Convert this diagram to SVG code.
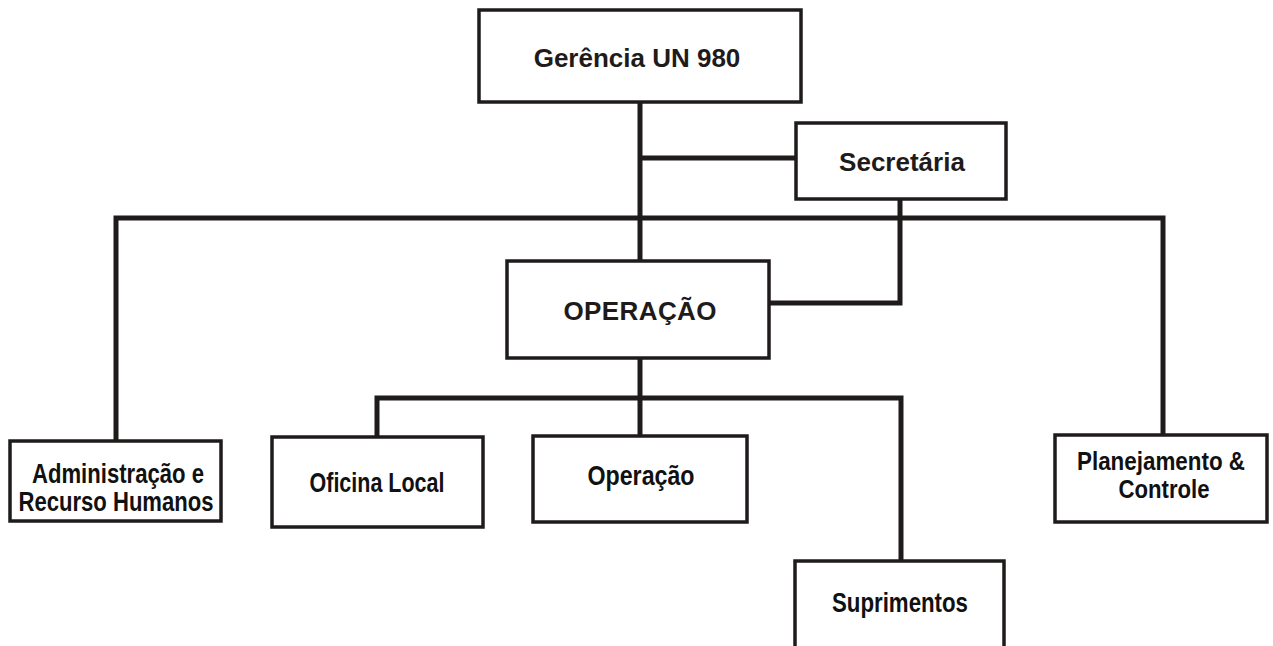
<svg xmlns="http://www.w3.org/2000/svg" width="1273" height="646" viewBox="0 0 1273 646">
  <style>
    .box { fill: #ffffff; stroke: #1f1b1b; stroke-width: 3.5; }
    .wire { fill: none; stroke: #1f1b1b; stroke-width: 5; stroke-linejoin: miter; stroke-linecap: butt; }
    .head { font-family: "Liberation Sans", Arial, sans-serif; font-weight: bold; font-size: 26px; fill: #1f1b1b; text-anchor: middle; }
    .unit { font-family: "Liberation Sans", Arial, sans-serif; font-weight: bold; font-size: 27px; fill: #111111; text-anchor: middle; }
    .unit.tight { font-size: 26px; }
  </style>
  <rect width="1273" height="646" fill="#ffffff"/>

  <!-- connectors -->
  <g id="connectors">
    <path class="wire" d="M640,102 V261"/>
    <path class="wire" d="M640,158 H796"/>
    <path class="wire" d="M116,441 V218 H1163 V435"/>
    <path class="wire" d="M900,199 V303 H769"/>
    <path class="wire" d="M640,358 V436"/>
    <path class="wire" d="M377,437 V398 H901 V561"/>
  </g>

  <g id="gerencia">
    <rect class="box" x="479" y="10" width="322" height="92"/>
    <text class="head" x="637" y="67">Gerência UN 980</text>
  </g>

  <g id="secretaria">
    <rect class="box" x="796" y="123" width="210" height="76"/>
    <text class="head" x="902" y="171">Secretária</text>
  </g>

  <g id="operacao-central">
    <rect class="box" x="507" y="261" width="262" height="97"/>
    <text class="head" x="640" y="320" textLength="153" lengthAdjust="spacing">OPERAÇÃO</text>
  </g>

  <g id="administracao">
    <rect class="box" x="10" y="441" width="211" height="80"/>
    <text class="unit" x="118" y="483" textLength="172" lengthAdjust="spacingAndGlyphs">Administração e</text>
    <text class="unit" x="116" y="511" textLength="195" lengthAdjust="spacingAndGlyphs">Recurso Humanos</text>
  </g>

  <g id="oficina">
    <rect class="box" x="272" y="437" width="211" height="90"/>
    <text class="unit" x="377" y="492" textLength="135" lengthAdjust="spacingAndGlyphs">Oficina Local</text>
  </g>

  <g id="operacao">
    <rect class="box" x="533" y="436" width="214" height="86"/>
    <text class="unit" x="641" y="485" textLength="107" lengthAdjust="spacingAndGlyphs">Operação</text>
  </g>

  <g id="planejamento">
    <rect class="box" x="1055" y="435" width="212" height="87"/>
    <text class="unit tight" x="1161" y="470" textLength="168" lengthAdjust="spacingAndGlyphs">Planejamento &amp;</text>
    <text class="unit tight" x="1164" y="498" textLength="91" lengthAdjust="spacingAndGlyphs">Controle</text>
  </g>

  <g id="suprimentos">
    <rect class="box" x="795" y="561" width="209" height="100"/>
    <text class="unit" x="900" y="612" textLength="136" lengthAdjust="spacingAndGlyphs">Suprimentos</text>
  </g>
</svg>
